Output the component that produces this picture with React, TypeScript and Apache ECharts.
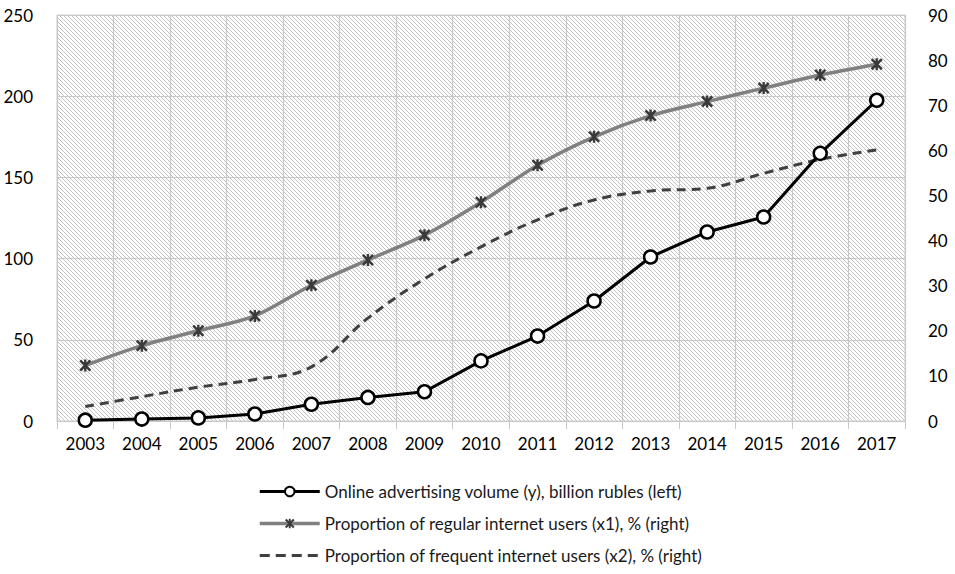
import React, { useEffect, useRef } from "react";
import * as echarts from "echarts";

const years = ["2003","2004","2005","2006","2007","2008","2009","2010","2011","2012","2013","2014","2015","2016","2017"];
const adVolume = [0.5, 1.2, 1.9, 4.3, 10.3, 14.5, 18, 37, 52.3, 73.9, 101, 116.4, 125.6, 164.8, 197.5];
const regularUsers = [12.3, 16.7, 20.0, 23.3, 30.1, 35.7, 41.2, 48.5, 56.7, 63.0, 67.7, 70.8, 73.8, 76.7, 79.1];
const frequentUsers = [3.2, 5.4, 7.5, 9.2, 12.0, 22.8, 31.5, 38.6, 44.6, 49.0, 51.0, 51.6, 54.9, 58.0, 60.1];

const seriesNames = [
  "Online advertising volume (y), billion rubles (left)",
  "Proportion of regular internet users (x1), % (right)",
  "Proportion of frequent internet users (x2), % (right)",
];

const hatchSvg =
  "<svg xmlns='http://www.w3.org/2000/svg' width='4' height='4'>" +
  "<rect width='4' height='4' fill='#ffffff'/>" +
  "<path d='M-1,-1 L5,5 M-1,3 L1,5 M3,-1 L5,1' stroke='#c2c2c2' stroke-width='1'/></svg>";
const hatchUrl = "data:image/svg+xml;charset=utf-8," + encodeURIComponent(hatchSvg);

const starPath =
  "path://M0,1.5L1.5,0L5,3.5L8.5,0L10,1.5L6.5,5L10,8.5L8.5,10L5,6.5L1.5,10L0,8.5L3.5,5Z M4,0L6,0L6,10L4,10Z";

export default function App() {
  const ref = useRef<HTMLDivElement>(null);
  useEffect(() => {
    if (!ref.current) return;
    const chart = echarts.init(ref.current, null, { renderer: "svg" });
    const font = "Lato";
    chart.setOption({
      animation: false,
      backgroundColor: "#ffffff",
      textStyle: { fontFamily: font },
      grid: {
        left: 57,
        right: 50,
        top: 15,
        bottom: 153,
        show: true,
        borderColor: "#d0d0d0",
        borderWidth: 1,
        backgroundColor: { image: hatchUrl, repeat: "repeat", imageWidth: 4, imageHeight: 4 } as any,
      },
      legend: {
        orient: "vertical",
        left: 258,
        top: 483,
        height: 90,
        padding: 0,
        itemWidth: 60,
        itemHeight: 12,
        itemGap: 15,
        textStyle: { fontFamily: font, fontSize: 17, color: "#1a1a1a" },
        data: [
          { name: seriesNames[0], lineStyle: { width: 3 } },
          { name: seriesNames[1], lineStyle: { width: 3.5 } },
          { name: seriesNames[2], lineStyle: { width: 3, type: [10, 6] }, itemStyle: { opacity: 0 } },
        ],
      },
      xAxis: {
        type: "category",
        data: years,
        boundaryGap: true,
        axisLine: { show: true, lineStyle: { color: "#c8c8c8", width: 1 } },
        axisTick: { show: true, length: 8, lineStyle: { color: "#c8c8c8" } },
        splitLine: { show: true, lineStyle: { color: "#c8c8c8", width: 1.2 } },
        axisLabel: { color: "#000", fontSize: 17, margin: 14, fontFamily: font },
      },
      yAxis: [
        {
          type: "value",
          min: 0,
          max: 250,
          interval: 50,
          axisLine: { show: false },
          axisTick: { show: false },
          splitLine: { show: true, lineStyle: { color: "#c8c8c8", width: 1.2 } },
          axisLabel: { color: "#000", fontSize: 17, margin: 24, fontFamily: font },
        },
        {
          type: "value",
          min: 0,
          max: 90,
          interval: 10,
          position: "right",
          axisLine: { show: false },
          axisTick: { show: false },
          splitLine: { show: false },
          axisLabel: { color: "#000", fontSize: 17, margin: 23, fontFamily: font },
        },
      ],
      series: [
        {
          name: seriesNames[0],
          type: "line",
          yAxisIndex: 0,
          data: adVolume,
          smooth: false,
          symbol: "circle",
          symbolSize: 13,
          z: 5,
          lineStyle: { color: "#000", width: 3 },
          itemStyle: { color: "#fff", borderColor: "#000", borderWidth: 2.5 },
        },
        {
          name: seriesNames[1],
          type: "line",
          yAxisIndex: 1,
          data: regularUsers,
          smooth: 0.3,
          symbol: starPath,
          symbolSize: 12,
          z: 4,
          lineStyle: { color: "#808080", width: 3.5 },
          itemStyle: { color: "#3a3a3a", borderWidth: 0 },
        },
        {
          name: seriesNames[2],
          type: "line",
          yAxisIndex: 1,
          data: frequentUsers,
          smooth: 0.4,
          symbol: "none",
          z: 3,
          lineStyle: { color: "#404040", width: 3, type: [9, 6] },
          itemStyle: { color: "#404040" },
        },
      ],
    });
    return () => chart.dispose();
  }, []);
  return <div ref={ref} style={{ width: 955, height: 574, position: "absolute", left: 0, top: 0 }} />;
}
